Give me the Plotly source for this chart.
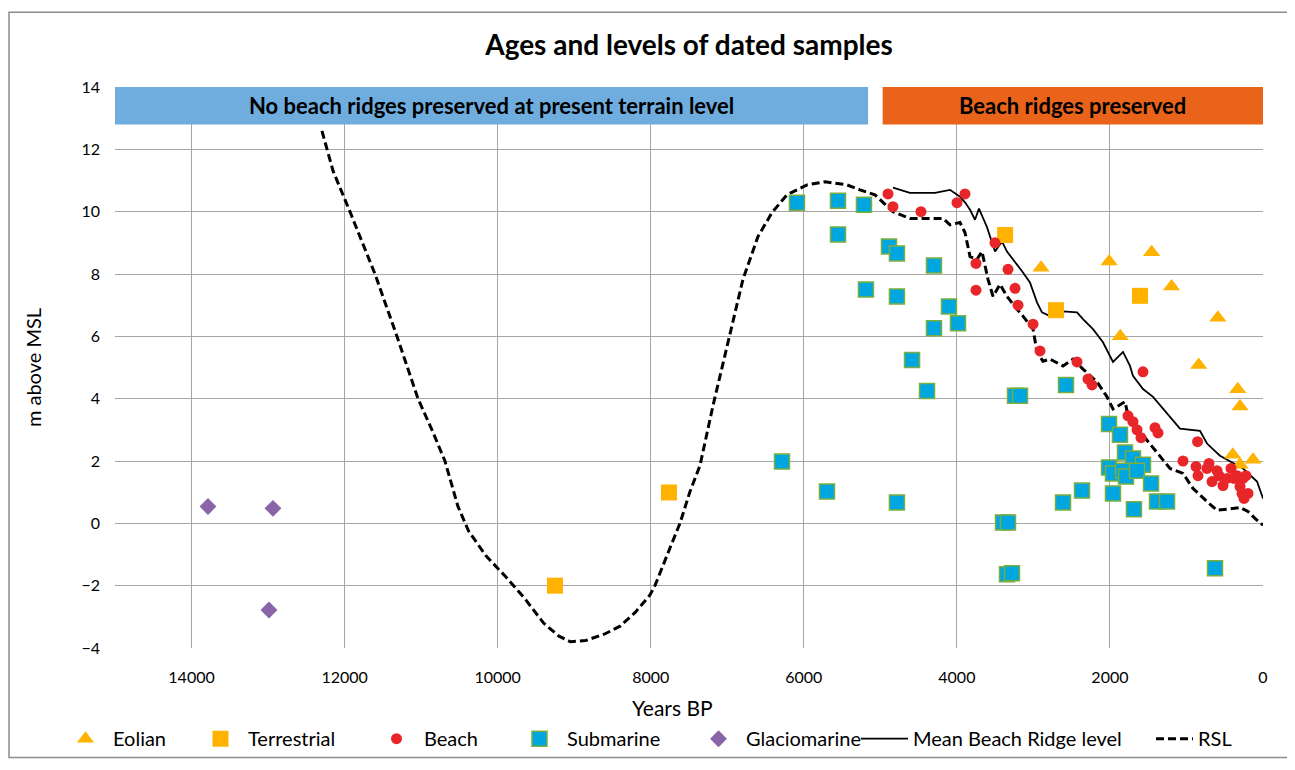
import plotly.graph_objects as go

# ---- data (years BP, m above MSL) ----
eolian_age = [2900, 2010, 1455, 1195, 1865, 590, 840, 330, 300, 395, 300, 130]
eolian_level = [8.2, 8.4, 8.7, 7.6, 6.0, 6.6, 5.08, 4.3, 3.75, 2.2, 1.88, 2.04]

terr_age = [3370, 2705, 1607, 7762, 9251]
terr_level = [9.25, 6.84, 7.3, 0.99, -2.0]

beach_age = [4900, 4835, 4469, 3998, 3894, 3502, 3750, 3750, 3332, 3240, 3201,
             3005, 2914, 2430, 2287, 2234, 1568, 1764, 1699, 1646, 1594, 1411,
             1372, 855, 1045, 875, 849, 732, 706, 666, 601, 575, 523, 470, 418,
             379, 340, 300, 261, 274, 248, 196, 222]
beach_level = [10.57, 10.16, 10.0, 10.29, 10.57, 9.0, 8.34, 7.48, 8.15, 7.54, 7.0,
               6.39, 5.53, 5.18, 4.63, 4.44, 4.86, 3.45, 3.26, 3.0, 2.75, 3.07,
               2.9, 2.62, 2.0, 1.82, 1.53, 1.76, 1.92, 1.34, 1.69, 1.53, 1.21, 1.44, 1.76,
               1.44, 1.53, 1.18, 1.44, 0.96, 0.8, 0.96, 1.53]

sub_age = [6089, 5553, 5214, 5553, 4887, 4783, 5188, 4783, 4299, 4103, 4299,
           3985, 4586, 4390, 3240, 3175, 6285, 5697, 4783, 2574, 3397, 3332,
           3345, 3280, 2613, 2365, 2012, 1869, 1803, 1699, 1568, 2012, 1960,
           1829, 1790, 1646, 1960, 1463, 1385, 1254, 1686, 627]
sub_level = [10.29, 10.35, 10.22, 9.27, 8.88, 8.66, 7.5, 7.28, 8.27, 6.96, 6.26,
             6.42, 5.24, 4.25, 4.09, 4.09, 1.98, 1.02, 0.67, 4.44, 0.03, 0.03,
             -1.63, -1.6, 0.67, 1.05, 3.19, 2.84, 2.27, 2.08, 1.88, 1.79, 1.6,
             1.69, 1.5, 1.69, 0.96, 1.28, 0.7, 0.7, 0.45, -1.44]

glacio_age = [13785, 12936, 12988]
glacio_level = [0.54, 0.48, -2.78]

ridge_age = [4835, 4613, 4286, 4090, 3959, 3894, 3828, 3763, 3711, 3606, 3502,
             3410, 3345, 3240, 3136, 3045, 2953, 2888, 2783, 2613, 2430, 2352,
             2221, 2091, 1960, 1829, 1738, 1699, 1568, 1437, 1307, 1176, 1085,
             823, 732, 562, 431, 261, 78, 0]
ridge_level = [10.77, 10.6, 10.6, 10.7, 10.48, 10.3, 10.06, 9.74, 10.1, 9.5, 8.72,
               9.04, 8.72, 8.4, 8.05, 7.73, 7.09, 6.77, 6.65, 6.8, 6.77, 6.55,
               6.23, 5.81, 5.18, 5.5, 5.05, 4.73, 4.31, 4.06, 3.67, 3.29, 3.04,
               2.97, 2.56, 2.17, 1.98, 1.76, 1.34, 0.8]

rsl_age = [12296, 12150, 11930, 11603, 11316, 11041, 10850, 10689, 10520, 10380,
           10150, 9900, 9650, 9400, 9200, 9050, 8850, 8600, 8400, 8200, 8010,
           7945, 7750, 7618, 7490, 7357, 7187, 7004, 6795, 6599, 6416, 6220,
           5958, 5723, 5436, 5266, 5070, 4835, 4613, 4390, 4181, 4090, 3959,
           3894, 3828, 3737, 3672, 3593, 3528, 3436, 3345, 3214, 3136, 3005,
           2953, 2875, 2783, 2613, 2483, 2352, 2169, 2038, 1960, 1803, 1777,
           1607, 1477, 1346, 1215, 1045, 915, 732, 601, 470, 300, 196, 105, 0]
rsl_level = [12.59, 11.3, 10.0, 8.0, 6.0, 4.0, 2.95, 2.0, 0.55, -0.25,
             -1.05, -1.7, -2.4, -3.2, -3.62, -3.8, -3.76, -3.55, -3.3, -2.85, -2.3,
             -2.0, -0.8, 0.0, 1.0, 1.85, 3.77, 5.69, 7.83, 9.2, 9.97, 10.54,
             10.86, 10.96, 10.86, 10.7, 10.54, 10.0, 9.78, 9.78, 9.78, 9.58, 9.65,
             9.33, 8.56, 8.47, 8.72, 7.83, 7.28, 7.67, 7.28, 6.87, 6.65, 6.23,
             5.5, 5.2, 5.27, 5.05, 5.27, 4.95, 4.54, 4.06, 3.67, 3.9, 3.61,
             2.94, 2.56, 2.17, 1.76, 1.6, 1.12, 0.7, 0.42, 0.45, 0.51, 0.38, 0.16, -0.06]

x_ticks = [14000, 12000, 10000, 8000, 6000, 4000, 2000, 0]
y_ticks = [-4, -2, 0, 2, 4, 6, 8, 10, 12, 14]

FONT = "Lato"
# page body has an 8px margin, so the figure is drawn 8px in from the top-left
W, H = 1287, 762
L, R, T, B = 107, 32, 79, 120
pw, ph = W - L - R, H - T - B


def px_to_paper_x(px):
    return (px - 8 - L) / pw


def px_to_paper_y(py):
    return (H - B - (py - 8)) / ph


fig = go.Figure()

# each legend entry gets its own legend box so the spacing can follow the original
# (legend id, left edge in page px, item width)
legend_pos = {
    "legend": (58, 45), "legend2": (193, 45), "legend3": (369, 45),
    "legend4": (512, 45), "legend5": (691, 45), "legend6": (856, 47),
    "legend7": (1151, 37),
}

# lines first so the markers sit on top
fig.add_trace(go.Scatter(x=ridge_age, y=ridge_level, mode="lines", name="Mean Beach Ridge level",
                         line=dict(color="black", width=1.8), legend="legend6"))
fig.add_trace(go.Scatter(x=rsl_age, y=rsl_level, mode="lines", name="RSL",
                         line=dict(color="black", width=3, dash="8px,4px"), legend="legend7"))

fig.add_trace(go.Scatter(x=eolian_age, y=eolian_level, mode="markers", name="Eolian", legend="legend",
                         marker=dict(symbol="triangle-up", size=15, color="#FFB300")))
fig.add_trace(go.Scatter(x=terr_age, y=terr_level, mode="markers", name="Terrestrial", legend="legend2",
                         marker=dict(symbol="square", size=16, color="#FFB300")))
fig.add_trace(go.Scatter(x=beach_age, y=beach_level, mode="markers", name="Beach", legend="legend3",
                         marker=dict(symbol="circle", size=11, color="#E8262A")))
fig.add_trace(go.Scatter(x=sub_age, y=sub_level, mode="markers", name="Submarine", legend="legend4",
                         marker=dict(symbol="square", size=15, color="#00A6E0",
                                     line=dict(color="#7AAE3E", width=1.5))))
fig.add_trace(go.Scatter(x=glacio_age, y=glacio_level, mode="markers", name="Glaciomarine", legend="legend5",
                         marker=dict(symbol="diamond", size=13, color="#8A64A8")))

# period header bars
fig.add_shape(type="rect", xref="x", yref="y", x0=15000, x1=5160, y0=12.8, y1=14,
              fillcolor="#6FADDF", line_width=0, layer="above")
fig.add_shape(type="rect", xref="x", yref="y", x0=4970, x1=0, y0=12.8, y1=14,
              fillcolor="#E9641A", line_width=0, layer="above")
fig.add_annotation(x=10080, y=13.4, xref="x", yref="y", showarrow=False,
                   text="<b>No beach ridges preserved at present terrain level</b>",
                   font=dict(family=FONT, size=22, color="black"))
fig.add_annotation(x=2485, y=13.4, xref="x", yref="y", showarrow=False,
                   text="<b>Beach ridges preserved</b>",
                   font=dict(family=FONT, size=22, color="black"))

# x axis title sits a little left of the plot centre in the original
fig.add_annotation(x=px_to_paper_x(672), y=px_to_paper_y(710), xref="paper", yref="paper",
                   xanchor="center", yanchor="middle", showarrow=False, text="Years BP",
                   font=dict(family=FONT, size=21, color="black"))

# outer chart border
fig.add_shape(type="rect", xref="paper", yref="paper",
              x0=px_to_paper_x(9), x1=px_to_paper_x(1293),
              y0=px_to_paper_y(760), y1=px_to_paper_y(12),
              line=dict(color="#8C8C8C", width=1.5), layer="below")

legends = {}
for key, (left, iw) in legend_pos.items():
    legends[key] = dict(orientation="h", x=px_to_paper_x(left), y=px_to_paper_y(741),
                        xanchor="left", yanchor="middle", itemwidth=iw,
                        font=dict(family=FONT, size=20), bgcolor="rgba(0,0,0,0)")

fig.update_layout(
    width=W, height=H,
    margin=dict(l=L, r=R, t=T, b=B),
    paper_bgcolor="white", plot_bgcolor="white",
    font=dict(family=FONT, size=16, color="black"),
    title=dict(text="<b>Ages and levels of dated samples</b>", x=0.5, xref="paper",
               y=1 - 37 / H, yref="container", yanchor="middle",
               font=dict(family=FONT, size=28, color="black")),
    showlegend=True,
    **legends,
)
fig.update_xaxes(range=[15000, 0], tickvals=x_ticks, ticktext=[str(v) for v in x_ticks],
                 showgrid=True, gridcolor="#A6A6A6", gridwidth=1, zeroline=False,
                 showline=False, ticks="", ticklabelstandoff=18)
fig.update_yaxes(range=[-4, 14], tickvals=y_ticks, showgrid=True, gridcolor="#A6A6A6",
                 gridwidth=1, zeroline=False, showline=False, ticks="", ticklabelstandoff=14,
                 title=dict(text="m above MSL", standoff=34, font=dict(size=20)))

fig.write_html("out.html")
